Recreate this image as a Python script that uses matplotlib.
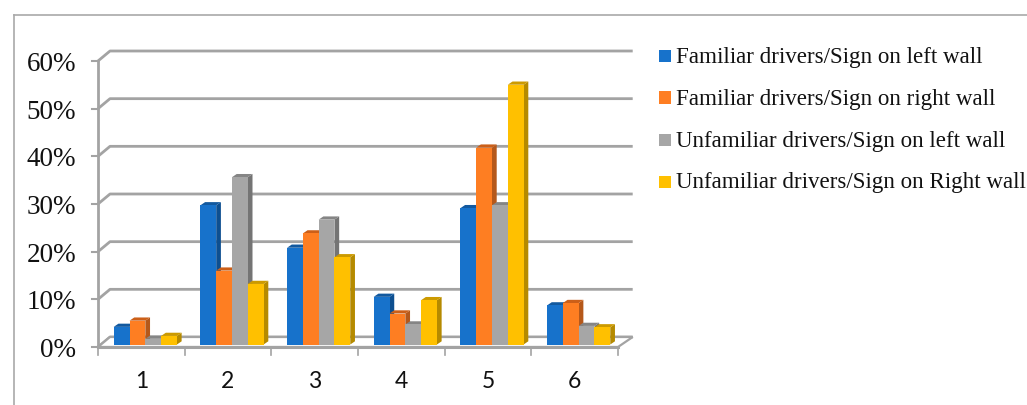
import matplotlib.pyplot as plt
from matplotlib.patches import Polygon, Rectangle

plt.rcParams["font.family"] = ["Liberation Serif", "DejaVu Serif"]

categories = ["1", "2", "3", "4", "5", "6"]
series_names = [
    "Familiar drivers/Sign on left wall",
    "Familiar drivers/Sign on right wall",
    "Unfamiliar drivers/Sign on left wall",
    "Unfamiliar drivers/Sign on Right wall",
]
fam_left = [3.7, 29.2, 20.3, 10.0, 28.6, 8.2]
fam_right = [5.0, 15.5, 23.3, 6.5, 41.3, 8.7]
unfam_left = [1.2, 35.1, 26.2, 4.2, 29.2, 3.9]
unfam_right = [1.8, 12.7, 18.3, 9.3, 54.5, 3.6]
y_ticks = [0, 10, 20, 30, 40, 50, 60]

series = [fam_left, fam_right, unfam_left, unfam_right]
front_colors = ["#1772cb", "#fe7e22", "#a6a6a6", "#ffc000"]
side_colors = ["#0d4f90", "#b5581a", "#747474", "#b58a00"]
top_colors = ["#12599f", "#cc5f18", "#858585", "#cc9a00"]
grid_col = "#a3a3a3"

W, H = 1027, 405
fig = plt.figure(figsize=(W / 100, H / 100), dpi=100)
# axes is the front plane of the fake 3D box
left, right, y0, y60 = 98, 618, 347, 61
ax = fig.add_axes([left / W, 1 - y0 / H, (right - left) / W, (y0 - y60) / H])
ax.set_xlim(0.5, 6.5)
ax.set_ylim(0, 60)
ax.axis("off")

# pixel sizes in data units
px = 6 / (right - left)
py = 60 / (y0 - y60)
back_x, back_y = 12 * px, 10 * py
bar_x, bar_y = 4 * px, 2.5 * py
side_x, side_y = 4.7 * px, 3.2 * py
bar_w = 15.8 * px

# back wall lines
for t in y_ticks:
    ax.plot([0.5, 0.5 + back_x, 6.5 + 14.7 * px],
            [t, t + back_y, t + back_y], color=grid_col, lw=2.0,
            clip_on=False, zorder=1, solid_capstyle="butt")
    ax.plot([0.5 - 6 * px, 0.5], [t, t], color=grid_col, lw=1.5,
            clip_on=False, zorder=1)

# floor
ax.add_patch(Polygon([(0.5, 0), (0.5 + back_x, back_y), (6.5 + 14.7 * px, back_y), (6.5, 0)],
                     closed=True, facecolor="white", edgecolor=grid_col, lw=1.6,
                     clip_on=False, zorder=2))
ax.plot([0.5, 0.5], [0, 60], color=grid_col, lw=2.0, clip_on=False, zorder=2)
ax.plot([0.5, 6.5], [0, 0], color=grid_col, lw=2.2, clip_on=False, zorder=2)
for i in range(7):
    ax.plot([0.5 + i, 0.5 + i], [0, -8 * py], color=grid_col, lw=1.2, clip_on=False, zorder=2)

# bars, back to front by drawing order left to right
for c in range(len(categories)):
    xc = c + 1 + bar_x
    for s in range(4):
        v = series[s][c]
        x0 = xc + (s - 2) * bar_w
        x1 = x0 + bar_w
        base = bar_y
        top = base + v
        ax.add_patch(Polygon([(x1, base), (x1 + side_x, base + side_y),
                              (x1 + side_x, top + side_y), (x1, top)],
                             facecolor=side_colors[s], edgecolor="none", zorder=3 + s))
        ax.add_patch(Polygon([(x0, top), (x0 + side_x, top + side_y),
                              (x1 + side_x, top + side_y), (x1, top)],
                             facecolor=top_colors[s], edgecolor="none", zorder=3 + s))
        ax.add_patch(Rectangle((x0, base), bar_w, v, facecolor=front_colors[s],
                               edgecolor="none", zorder=3 + s))

# tick labels
for t in y_ticks:
    ax.text(0.5 - 22 * px, t - 10 * py, f"{t}%", ha="right", va="baseline", fontsize=19.5,
            color="#111111", clip_on=False)
for i, name in enumerate(categories):
    ax.text(i + 1, -41.3 * py, name, ha="center", va="baseline", fontsize=16.5,
            family=["Lato", "DejaVu Sans"], color="#111111", clip_on=False)

# legend drawn as separate squares and text
square_y = [56, 97.5, 140, 181.5]
text_y = [63, 105, 147, 188]
for name, col, sy, ty in zip(series_names, front_colors, square_y, text_y):
    fig.patches.append(Rectangle((659 / W, 1 - (sy + 6) / H), 12 / W, 12 / H,
                                 transform=fig.transFigure, facecolor=col,
                                 edgecolor="none"))
    fig.text(676 / W, 1 - ty / H, name, ha="left", va="baseline", fontsize=16.6, color="#111111")

# outer frame lines
fig.add_artist(plt.Line2D([13.5 / W, 13.5 / W], [0, 1 - 15 / H], color="#a9a9a9", lw=1.2))
fig.add_artist(plt.Line2D([13.5 / W, 1], [1 - 15 / H, 1 - 15 / H], color="#a9a9a9", lw=1.2))

fig.savefig("out.png", dpi=100)
